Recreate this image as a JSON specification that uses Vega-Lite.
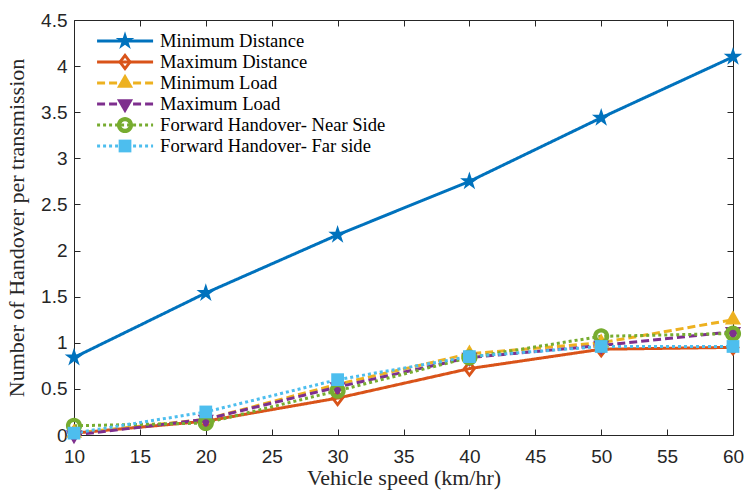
{
  "$schema": "https://vega.github.io/schema/vega-lite/v6.json",
  "width": 659,
  "height": 415,
  "autosize": "none",
  "padding": {"left": 74, "top": 20, "right": 11, "bottom": 57},
  "background": "white",
  "config": {
    "view": {"stroke": "#262626", "strokeWidth": 1},
    "axis": {
      "grid": false,
      "domain": false,
      "tickColor": "#262626",
      "tickSize": -6,
      "tickWidth": 1,
      "labelFlush": false,
      "labelOverlap": false,
      "labelFont": "Liberation Sans",
      "labelFontSize": 19,
      "labelColor": "#262626",
      "titleFont": "Liberation Serif",
      "titleFontSize": 22,
      "titleFontWeight": "normal",
      "titleColor": "#262626"
    }
  },
  "datasets": {
    "handovers": [
      {"speed": 10, "series": "Minimum Distance", "handovers": 0.84},
      {"speed": 20, "series": "Minimum Distance", "handovers": 1.54},
      {"speed": 30, "series": "Minimum Distance", "handovers": 2.17},
      {"speed": 40, "series": "Minimum Distance", "handovers": 2.75},
      {"speed": 50, "series": "Minimum Distance", "handovers": 3.44},
      {"speed": 60, "series": "Minimum Distance", "handovers": 4.10},
      {"speed": 10, "series": "Maximum Distance", "handovers": 0.02},
      {"speed": 20, "series": "Maximum Distance", "handovers": 0.15},
      {"speed": 30, "series": "Maximum Distance", "handovers": 0.40},
      {"speed": 40, "series": "Maximum Distance", "handovers": 0.72},
      {"speed": 50, "series": "Maximum Distance", "handovers": 0.93},
      {"speed": 60, "series": "Maximum Distance", "handovers": 0.95},
      {"speed": 10, "series": "Minimum Load", "handovers": 0.02},
      {"speed": 20, "series": "Minimum Load", "handovers": 0.17},
      {"speed": 30, "series": "Minimum Load", "handovers": 0.55},
      {"speed": 40, "series": "Minimum Load", "handovers": 0.88},
      {"speed": 50, "series": "Minimum Load", "handovers": 1.00},
      {"speed": 60, "series": "Minimum Load", "handovers": 1.25},
      {"speed": 10, "series": "Maximum Load", "handovers": 0.00},
      {"speed": 20, "series": "Maximum Load", "handovers": 0.17},
      {"speed": 30, "series": "Maximum Load", "handovers": 0.52},
      {"speed": 40, "series": "Maximum Load", "handovers": 0.84},
      {"speed": 50, "series": "Maximum Load", "handovers": 0.97},
      {"speed": 60, "series": "Maximum Load", "handovers": 1.12},
      {"speed": 10, "series": "Forward Handover- Near Side", "handovers": 0.10},
      {"speed": 20, "series": "Forward Handover- Near Side", "handovers": 0.13},
      {"speed": 30, "series": "Forward Handover- Near Side", "handovers": 0.48},
      {"speed": 40, "series": "Forward Handover- Near Side", "handovers": 0.84},
      {"speed": 50, "series": "Forward Handover- Near Side", "handovers": 1.07},
      {"speed": 60, "series": "Forward Handover- Near Side", "handovers": 1.10},
      {"speed": 10, "series": "Forward Handover- Far side", "handovers": 0.02},
      {"speed": 20, "series": "Forward Handover- Far side", "handovers": 0.25},
      {"speed": 30, "series": "Forward Handover- Far side", "handovers": 0.60},
      {"speed": 40, "series": "Forward Handover- Far side", "handovers": 0.85},
      {"speed": 50, "series": "Forward Handover- Far side", "handovers": 0.96},
      {"speed": 60, "series": "Forward Handover- Far side", "handovers": 0.96}
    ],
    "legendEntries": [
      {"series": "Minimum Distance"},
      {"series": "Maximum Distance"},
      {"series": "Minimum Load"},
      {"series": "Maximum Load"},
      {"series": "Forward Handover- Near Side"},
      {"series": "Forward Handover- Far side"}
    ]
  },
  "resolve": {"scale": {"y": "independent"}, "axis": {"x": "independent", "y": "independent"}},
  "layer": [
    {
      "data": {"name": "handovers"},
      "resolve": {"axis": {"x": "independent", "y": "independent"}},
      "layer": [
        {
          "mark": {"type": "line", "strokeWidth": 3, "strokeCap": "butt", "strokeJoin": "round"},
          "encoding": {
            "x": {
              "field": "speed", "type": "quantitative",
              "scale": {"domain": [10, 60], "nice": false},
              "axis": {"values": [10, 15, 20, 25, 30, 35, 40, 45, 50, 55, 60], "labelPadding": 18, "title": "Vehicle speed (km/hr)", "titlePadding": 1}
            },
            "y": {
              "field": "handovers", "type": "quantitative",
              "scale": {"domain": [0, 4.5], "nice": false, "zero": false},
              "axis": {"values": [0, 0.5, 1, 1.5, 2, 2.5, 3, 3.5, 4, 4.5], "format": "~g", "labelPadding": 13, "title": "Number of Handover per transmission", "titlePadding": 12}
            },
            "color": {
              "field": "series", "type": "nominal",
              "scale": {
                "domain": ["Minimum Distance", "Maximum Distance", "Minimum Load", "Maximum Load", "Forward Handover- Near Side", "Forward Handover- Far side"],
                "range": ["#0072BD", "#D95319", "#EDB120", "#7E2F8E", "#77AC30", "#4DBEEE"]
              },
              "legend": null
            },
            "strokeDash": {
              "field": "series", "type": "nominal",
              "scale": {
                "domain": ["Minimum Distance", "Maximum Distance", "Minimum Load", "Maximum Load", "Forward Handover- Near Side", "Forward Handover- Far side"],
                "range": [[1, 0], [1, 0], [8, 4], [8, 4], [3, 3], [3, 3]]
              },
              "legend": null
            }
          }
        },
        {
          "mark": {"type": "point", "filled": true, "opacity": 1, "size": 289},
          "encoding": {
            "x": {"field": "speed", "type": "quantitative", "axis": null},
            "y": {"field": "handovers", "type": "quantitative", "axis": null},
            "color": {"field": "series", "type": "nominal", "legend": null},
            "shape": {
              "field": "series", "type": "nominal",
              "scale": {
                "domain": ["Minimum Distance", "Maximum Distance", "Minimum Load", "Maximum Load", "Forward Handover- Near Side", "Forward Handover- Far side"],
                "range": [
                  "M0,-1.15L0.258,-0.355L1.094,-0.355L0.418,0.136L0.676,0.93L0,0.439L-0.676,0.93L-0.418,0.136L-1.094,-0.355L-0.258,-0.355Z",
                  "M0,-1.05L0.8,0L0,1.05L-0.8,0ZM0,-0.5L-0.38,0L0,0.5L0.38,0Z",
                  "M0,-1.1L0.95,0.55L-0.95,0.55Z",
                  "M0,1.1L0.95,-0.55L-0.95,-0.55Z",
                  "M0,-0.95A0.95,0.95,0,1,1,0,0.95A0.95,0.95,0,1,1,0,-0.95ZM0,-0.45A0.45,0.45,0,1,0,0,0.45A0.45,0.45,0,1,0,0,-0.45Z",
                  "M-0.75,-0.75L0.75,-0.75L0.75,0.75L-0.75,0.75Z"
                ]
              },
              "legend": null
            }
          }
        },
        {
          "mark": {"type": "point", "opacity": 0},
          "encoding": {
            "x": {"field": "speed", "type": "quantitative", "axis": {"orient": "top", "values": [10, 15, 20, 25, 30, 35, 40, 45, 50, 55, 60], "labels": false, "title": null}},
            "y": {"field": "handovers", "type": "quantitative", "axis": {"orient": "right", "values": [0, 0.5, 1, 1.5, 2, 2.5, 3, 3.5, 4, 4.5], "labels": false, "title": null}}
          }
        }
      ]
    },
    {
      "data": {"name": "legendEntries"},
      "encoding": {
        "y": {
          "field": "series", "type": "nominal", "sort": null,
          "scale": {
            "type": "point",
            "domain": ["Minimum Distance", "Maximum Distance", "Minimum Load", "Maximum Load", "Forward Handover- Near Side", "Forward Handover- Far side"],
            "range": [21, 126],
            "padding": 0
          },
          "axis": null
        }
      },
      "layer": [
        {
          "mark": {"type": "rule", "strokeWidth": 3, "strokeCap": "butt"},
          "encoding": {
            "x": {"datum": 11.75, "type": "quantitative", "axis": null},
            "x2": {"datum": 16.0},
            "color": {"field": "series", "type": "nominal", "legend": null},
            "strokeDash": {"field": "series", "type": "nominal", "legend": null}
          }
        },
        {
          "mark": {"type": "point", "filled": true, "opacity": 1, "size": 289},
          "encoding": {
            "x": {"datum": 13.87, "type": "quantitative", "axis": null},
            "color": {"field": "series", "type": "nominal", "legend": null},
            "shape": {"field": "series", "type": "nominal", "legend": null}
          }
        },
        {
          "mark": {"type": "text", "align": "left", "baseline": "middle", "font": "Liberation Serif", "fontSize": 18.6, "color": "black"},
          "encoding": {
            "x": {"datum": 16.53, "type": "quantitative", "axis": null},
            "text": {"field": "series", "type": "nominal"}
          }
        }
      ]
    }
  ]
}
